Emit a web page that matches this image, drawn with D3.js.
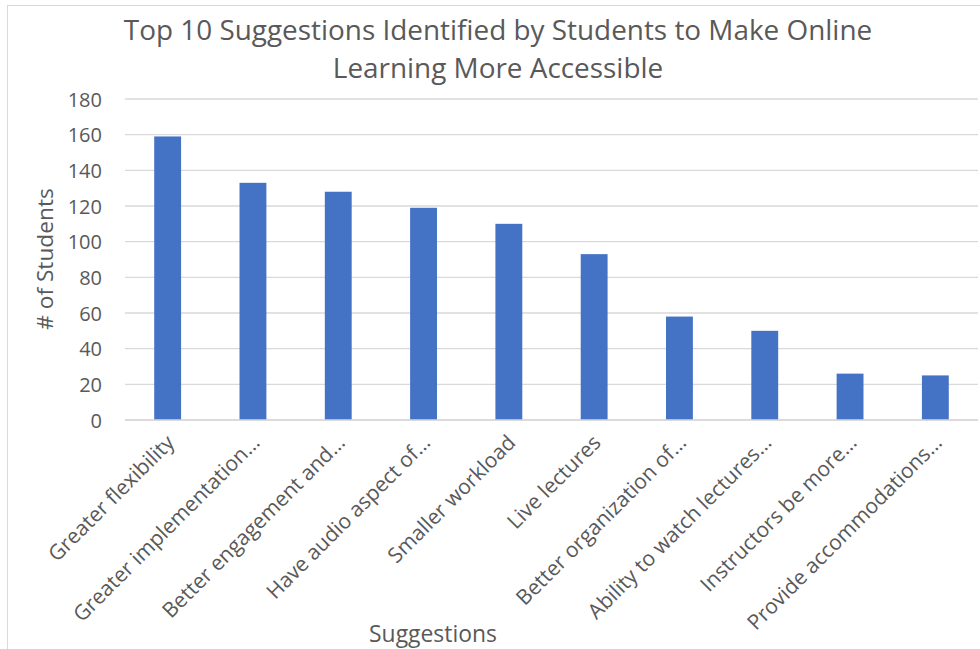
<!DOCTYPE html>
<html><head><meta charset="utf-8">
<script src="https://cdn.jsdelivr.net/npm/d3@7"></script>
<style>body{margin:0;background:#fff}svg{display:block}text{font-family:"Open Sans",sans-serif;fill:#595959}</style>
</head><body><svg id="c" width="980" height="649"></svg>
<script>
const categories = ["Greater flexibility","Greater implementation…","Better engagement and…","Have audio aspect of…","Smaller workload","Live lectures","Better organization of…","Ability to watch lectures…","Instructors be more…","Provide accommodations…"];
const values = [159,133,128,119,110,93,58,50,26,25];
const yTicks = [0,20,40,60,80,100,120,140,160,180];
const titleLines = ["Top 10 Suggestions Identified by Students to Make Online","Learning More Accessible"];
const yTitle = "# of Students";
const xTitle = "Suggestions";

const svg = d3.select("#c");
const L=125,R=978,T=99,B=420;
// chart border
svg.append("rect").attr("x",7.5).attr("y",5.5).attr("width",1000).attr("height",700).attr("fill","none").attr("stroke","#d9d9d9");

const x = d3.scaleBand().domain(categories).range([L,R]).paddingInner(0.685).paddingOuter(0.3425);
const y = d3.scaleLinear().domain([0,180]).range([B,T]);

const grid = svg.append("g");
grid.selectAll("line").data(yTicks).join("line")
  .attr("x1",L).attr("x2",R).attr("y1",d=>y(d)).attr("y2",d=>y(d))
  .attr("stroke","#d9d9d9").attr("stroke-width",1.3);

svg.append("g").selectAll("rect").data(values).join("rect")
  .attr("x",(d,i)=>x(categories[i])).attr("width",x.bandwidth())
  .attr("y",d=>y(d)).attr("height",d=>B-y(d)).attr("fill","#4472c4");

const yAxis = svg.append("g").attr("transform",`translate(${L},0)`)
  .call(d3.axisLeft(y).tickValues(yTicks).tickSize(0).tickPadding(23));
yAxis.select(".domain").remove();
yAxis.attr("font-size",20);
yAxis.selectAll("text").attr("font-size",20).attr("fill","#595959").attr("dy","0.36em");

const xAxis = svg.append("g").attr("transform",`translate(0,${B})`)
  .call(d3.axisBottom(x).tickSize(0).tickPadding(0));
xAxis.select(".domain").remove();
xAxis.attr("font-size",21);
xAxis.selectAll(".tick text").attr("font-size",21).attr("fill","#595959")
  .attr("text-anchor","end").attr("dy",0).attr("y",0)
  .attr("transform","translate(8,24) rotate(-45)");

svg.append("line").attr("x1",L).attr("x2",R).attr("y1",B).attr("y2",B).attr("stroke","#d9d9d9").attr("stroke-width",1.3);

svg.selectAll(".title").data(titleLines).join("text").attr("class","title")
  .attr("x",498).attr("y",(d,i)=>40+i*38).attr("text-anchor","middle").attr("font-size",27.9).text(d=>d);

svg.append("text").attr("transform","translate(53,259) rotate(-90)").attr("text-anchor","middle").attr("font-size",22.7).text(yTitle);
svg.append("text").attr("x",433).attr("y",642).attr("text-anchor","middle").attr("font-size",22.9).text(xTitle);
</script></body></html>
